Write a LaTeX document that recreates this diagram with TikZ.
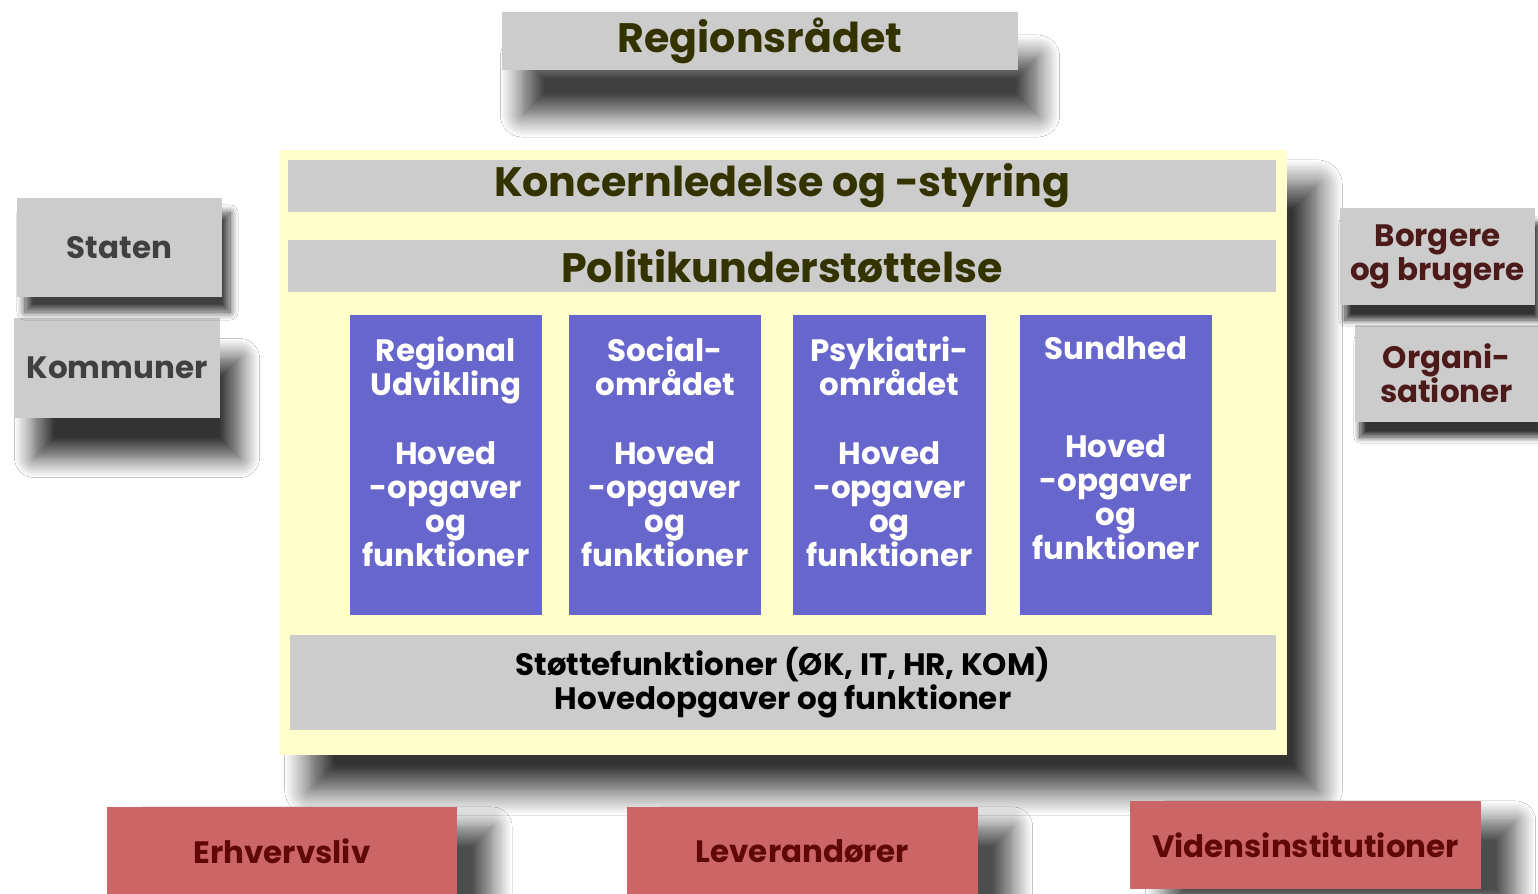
\documentclass[tikz,border=0pt]{standalone}
\usepackage{fontspec}
\setmainfont{Poppins}
\usetikzlibrary{shadows.blur}

\definecolor{felt}{RGB}{204,204,204}
\definecolor{gul}{RGB}{255,255,204}
\definecolor{blaa}{RGB}{102,102,204}
\definecolor{roed}{RGB}{204,102,102}
\definecolor{oliven}{RGB}{51,51,0}
\definecolor{moerkgraa}{RGB}{64,64,64}
\definecolor{brun}{RGB}{77,26,26}
\definecolor{vinroed}{RGB}{96,8,8}

\newcommand{\tettlinjer}{\lineskiplimit=-100pt\relax}

\tikzset{
	kasse/.style={inner sep=0pt, align=center, font={\bfseries\fontsize{8.8}{9.7}\selectfont\tettlinjer}},
	graafelt/.style={kasse, fill=felt},
	overskrift/.style={graafelt, text=oliven, font={\bfseries\fontsize{11.7}{12}\selectfont}},
	omraade/.style={kasse, fill=blaa, minimum width=1.92cm, minimum height=3.00cm},
	omrtekst/.style={kasse, text=white, anchor=north},
	aktoer/.style={kasse, fill=roed, text=vinroed, minimum width=3.50cm, minimum height=0.88cm,
		blur shadow={shadow xshift=0.35cm, shadow yshift=-0.2cm, shadow blur radius=0.2cm, shadow blur steps=14, shadow opacity=70}},
	skygge/.style n args={4}{blur shadow={shadow xshift=#1, shadow yshift=#2, shadow blur radius=#3, shadow blur steps=14, shadow opacity=#4}},
}

\begin{document}
\begin{tikzpicture}[x=0.01cm, y=-0.01cm]
	\useasboundingbox[fill=white] (0,0) rectangle (1538,894);

	% top
	\node[overskrift, minimum width=5.15cm, minimum height=0.58cm, skygge={0.2cm}{-0.45cm}{0.22cm}{75}] (region) at (760,41) {Regionsrådet};

	% yellow frame
	\node[fill=gul, minimum width=10.07cm, minimum height=6.05cm, skygge={0.3cm}{-0.35cm}{0.25cm}{80}] (ramme) at (783.5,452.5) {};

	\node[overskrift, minimum width=9.88cm, minimum height=0.52cm] (koncern) at (782,186) {Koncernledelse og -styring};
	\node[overskrift, minimum width=9.88cm, minimum height=0.52cm] (politik) at (782,266) {Politikunderstøttelse};

	% the four areas
	\node[omraade] (regional) at (446,465) {};
	\node[omraade] (social) at (665,465) {};
	\node[omraade] (psyk) at (889.5,465) {};
	\node[omraade] (sundhed) at (1116,465) {};

	\node[omrtekst] (regionalt) at ([yshift=-0.22cm]regional.north) {Regional\\Udvikling\\[9.7pt]Hoved\\-opgaver\\og\\funktioner};
	\node[omrtekst] (socialt) at ([yshift=-0.22cm]social.north) {Social-\\området\\[9.7pt]Hoved\\-opgaver\\og\\funktioner};
	\node[omrtekst] (psykt) at ([yshift=-0.22cm]psyk.north) {Psykiatri-\\området\\[9.7pt]Hoved\\-opgaver\\og\\funktioner};
	\node[omrtekst] (sundhedt) at ([yshift=-0.22cm]sundhed.north) {Sundhed\\[18pt]Hoved\\-opgaver\\og\\funktioner};

	\node[graafelt, text=black, minimum width=9.86cm, minimum height=0.95cm] (stoette) at (783,682.5) {Støttefunktioner (ØK, IT, HR, KOM)\\Hovedopgaver og funktioner};

	% left
	\node[graafelt, text=moerkgraa, minimum width=2.05cm, minimum height=0.99cm, skygge={0.2cm}{-0.4cm}{0.2cm}{80}] (kommuner) at (117,368) {Kommuner};
	\node[graafelt, text=moerkgraa, minimum width=2.05cm, minimum height=0.99cm, skygge={0.08cm}{-0.15cm}{0.08cm}{75}] (staten) at (119.5,247.5) {Staten};

	% right
	\node[graafelt, text=brun, minimum width=1.83cm, minimum height=0.97cm, skygge={0.05cm}{-0.15cm}{0.06cm}{80}] (organ) at (1446.5,373.5) {Organi-\\sationer};
	\node[graafelt, text=brun, minimum width=1.95cm, minimum height=0.97cm, skygge={0.05cm}{-0.15cm}{0.06cm}{80}] (borgere) at (1437.5,256.5) {Borgere\\og brugere};

	% bottom
	\node[aktoer] (erhverv) at (282,851) {Erhvervsliv};
	\node[aktoer] (leverand) at (802.5,851) {Leverandører};
	\node[aktoer] (viden) at (1305.5,845) {Vidensinstitutioner};

\end{tikzpicture}
\end{document}
